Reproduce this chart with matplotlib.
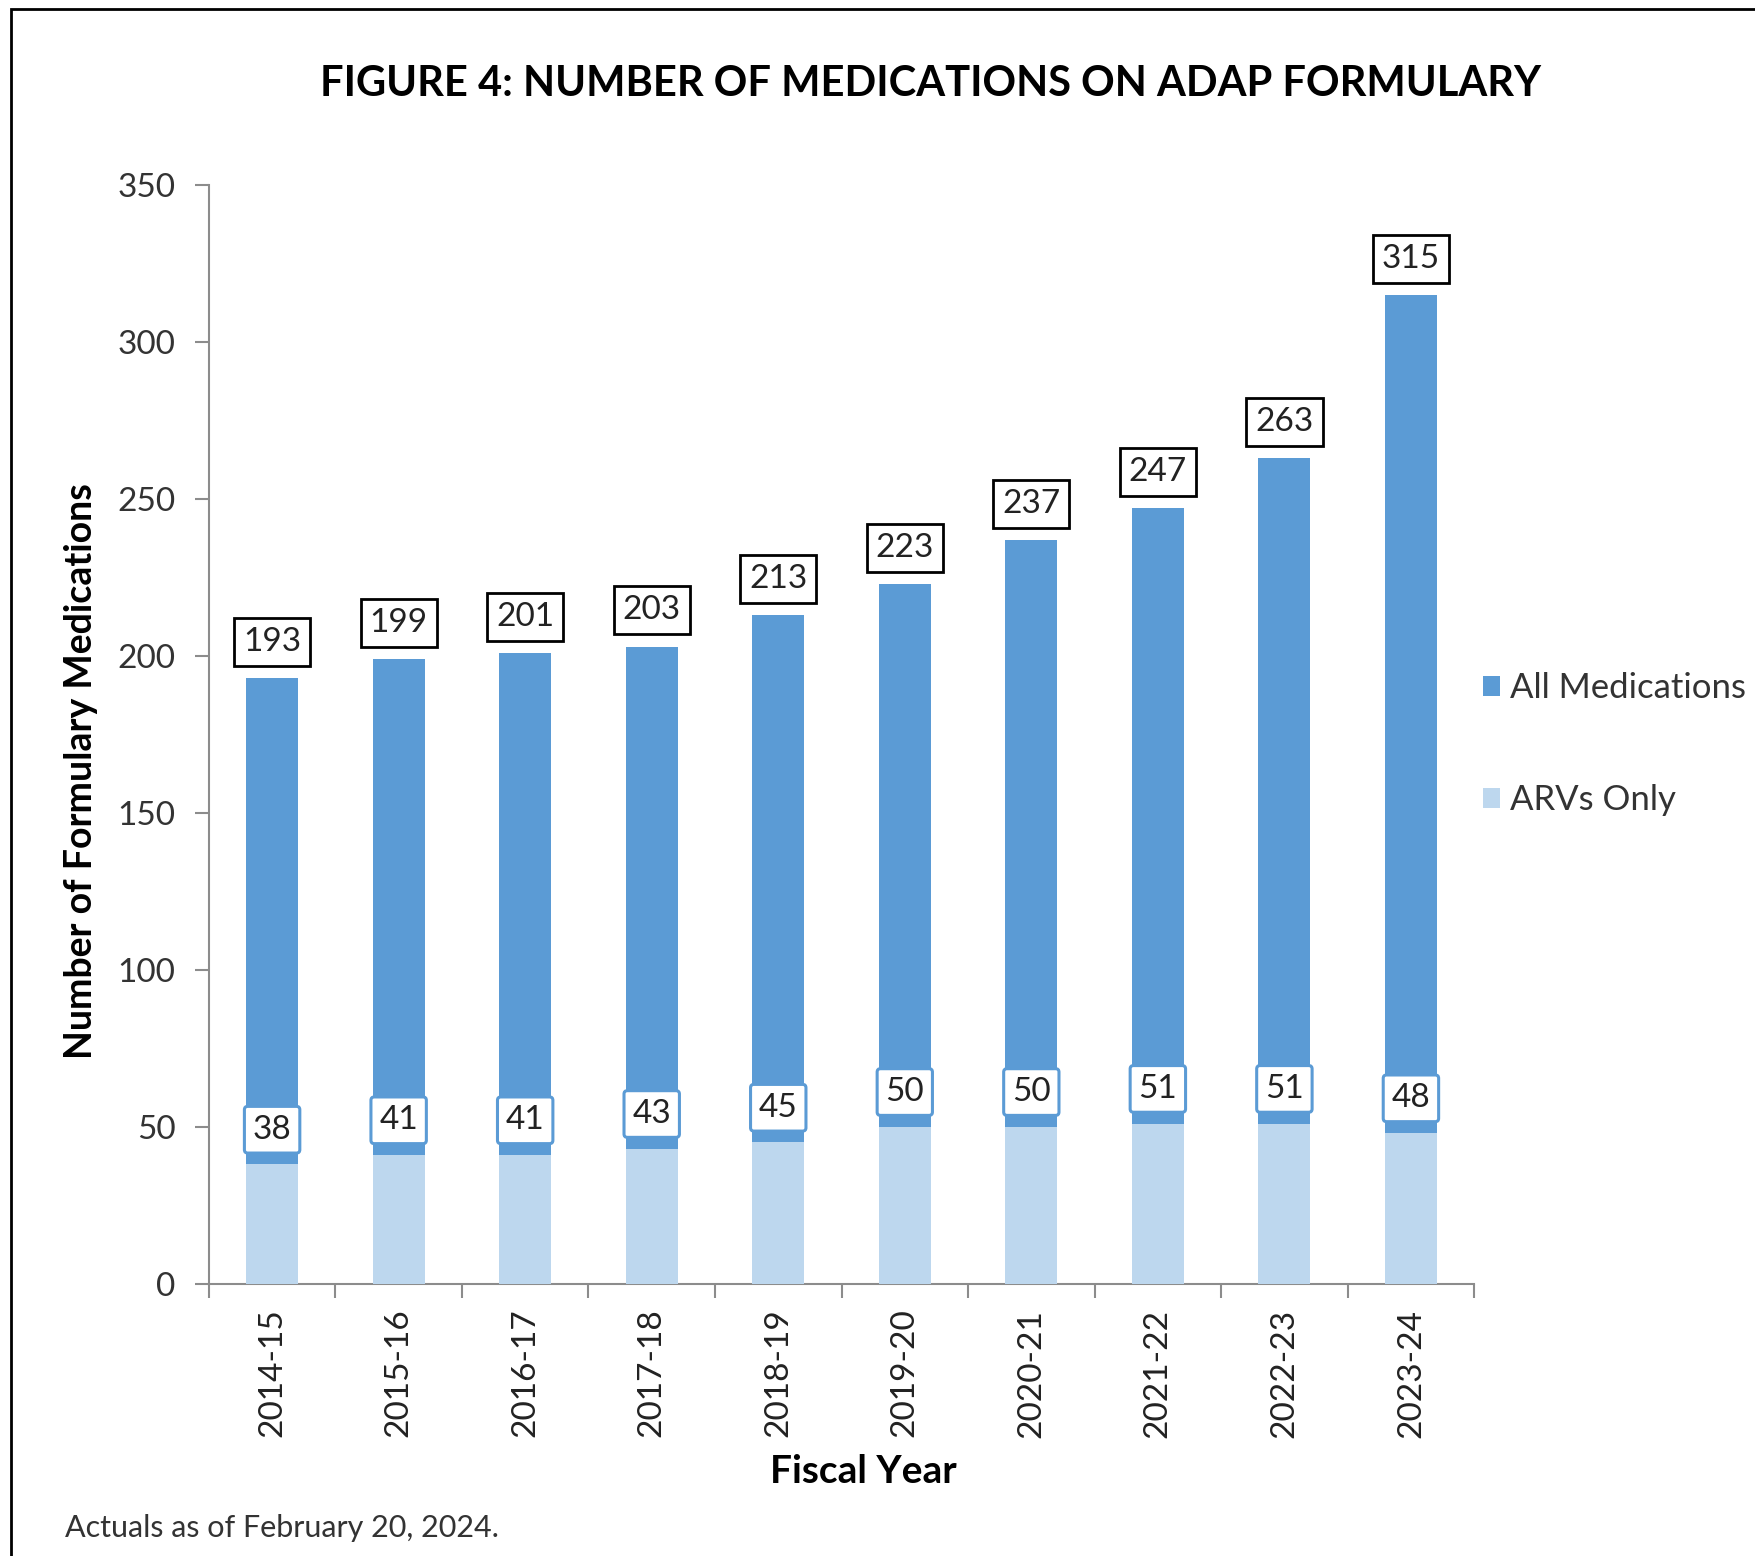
import numpy as np
import matplotlib.pyplot as plt
from matplotlib.patches import Rectangle

plt.rcParams['font.family'] = ['Lato', 'DejaVu Sans']

# Data
years = ['2014-15', '2015-16', '2016-17', '2017-18', '2018-19',
         '2019-20', '2020-21', '2021-22', '2022-23', '2023-24']
all_meds = [193, 199, 201, 203, 213, 223, 237, 247, 263, 315]
arvs_only = [38, 41, 41, 43, 45, 50, 50, 51, 51, 48]

dark_blue = '#5B9BD5'
light_blue = '#BDD7EE'
axis_gray = '#8C8C8C'

fig = plt.figure(figsize=(17.55, 15.56), dpi=100)
ax = fig.add_axes([0.119, 0.175, 0.721, 0.706])

x = np.arange(len(years))
width = 0.41
ax.bar(x, all_meds, width, color=dark_blue, label='All Medications', zorder=2)
ax.bar(x, arvs_only, width, color=light_blue, label='ARVs Only', zorder=3)

# value labels in boxes
for xi, v in zip(x, all_meds):
    ax.annotate(str(v), (xi, v), xytext=(0, 26), textcoords='offset points',
                ha='center', va='center', fontsize=24, color='#222222', zorder=5,
                bbox=dict(boxstyle='square,pad=0.27', fc='white', ec='black', lw=2))
for xi, v in zip(x, arvs_only):
    ax.annotate(str(v), (xi, v), xytext=(0, 25), textcoords='offset points',
                ha='center', va='center', fontsize=24, color='#222222', zorder=5,
                bbox=dict(boxstyle='round,pad=0.25,rounding_size=0.1', fc='white',
                          ec=dark_blue, lw=2.2))

ax.set_xlim(-0.5, len(years) - 0.5)
ax.set_ylim(0, 350)
ax.set_yticks(np.arange(0, 351, 50))
ax.set_xticks(x)
ax.set_xticklabels(years, rotation=90)
ax.set_xticks(np.arange(-0.5, len(years), 1), minor=True)
ax.tick_params(axis='x', which='major', length=0, pad=18, labelsize=24, labelcolor='#222222')
ax.tick_params(axis='x', which='minor', length=10, width=1.5, color=axis_gray)
ax.tick_params(axis='y', length=10, width=1.5, color=axis_gray, pad=14,
               labelsize=24, labelcolor='#333333')

for side in ['top', 'right']:
    ax.spines[side].set_visible(False)
for side in ['left', 'bottom']:
    ax.spines[side].set_color(axis_gray)
    ax.spines[side].set_linewidth(1.5)

ax.set_ylabel('Number of Formulary Medications', fontsize=27, fontweight='bold')
ax.yaxis.set_label_coords(-0.0875, 0.467)
ax.set_xlabel('Fiscal Year', fontsize=28, fontweight='bold')
ax.xaxis.set_label_coords(0.517, -0.155)

fig.text(0.53, 0.946, 'FIGURE 4: NUMBER OF MEDICATIONS ON ADAP FORMULARY',
         ha='center', va='center', fontsize=30, fontweight='bold', color='black')
fig.text(0.037, 0.018, 'Actuals as of February 20, 2024.', ha='left', va='center',
         fontsize=22, color='#333333')

leg = ax.legend(loc='center left', bbox_to_anchor=(0.982, 0.491), frameon=False,
                fontsize=25, handlelength=0.5, handleheight=0.5, handletextpad=0.3,
                labelspacing=2.3, labelcolor='#333333')

# outer frame
fig.patches.append(Rectangle((0.0063, -0.05), 1.1, 1.0442, transform=fig.transFigure,
                             fill=False, ec='black', lw=2))

fig.savefig('out.png', dpi=100)
